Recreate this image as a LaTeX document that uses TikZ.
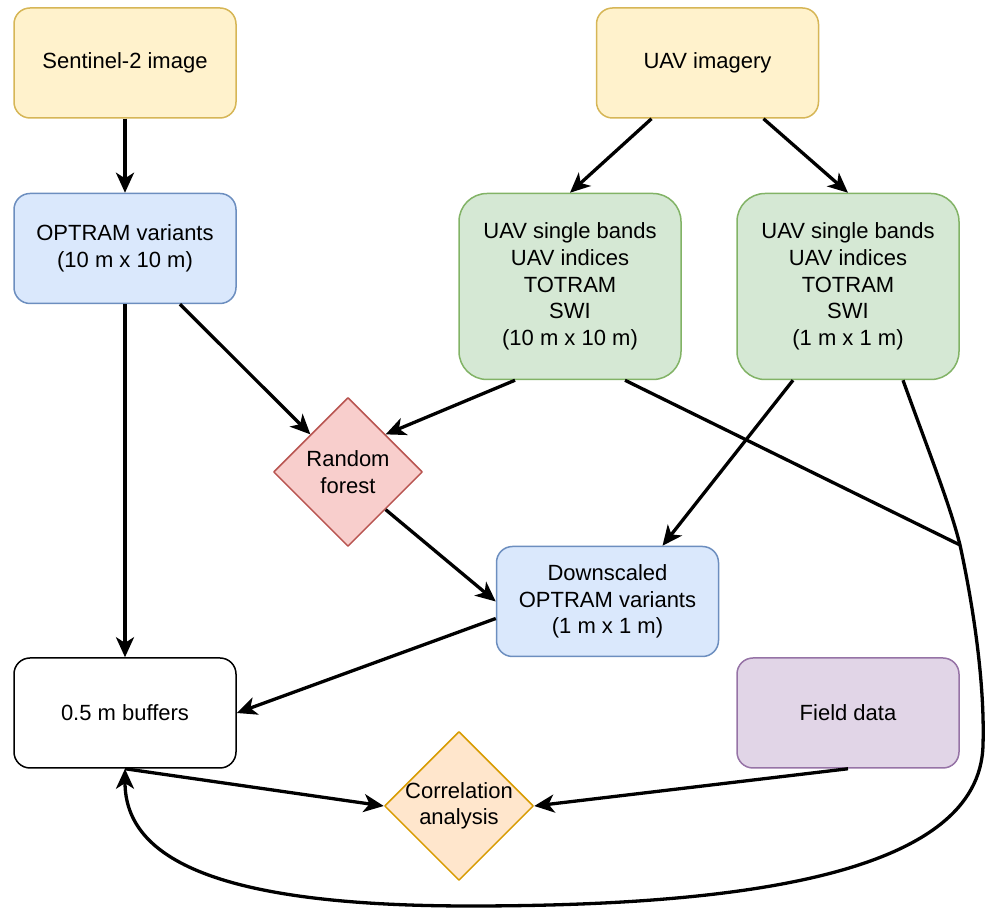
\documentclass[tikz,border=0pt]{standalone}
\usepackage{fontspec}
\setmainfont{Liberation Sans}
\usetikzlibrary{shapes.geometric,arrows.meta}
\definecolor{yelF}{HTML}{FFF2CC}\definecolor{yelD}{HTML}{D6B656}
\definecolor{bluF}{HTML}{DAE8FC}\definecolor{bluD}{HTML}{6C8EBF}
\definecolor{grnF}{HTML}{D5E8D4}\definecolor{grnD}{HTML}{82B366}
\definecolor{redF}{HTML}{F8CECC}\definecolor{redD}{HTML}{B85450}
\definecolor{purF}{HTML}{E1D5E7}\definecolor{purD}{HTML}{9673A6}
\definecolor{orgF}{HTML}{FFE6CC}\definecolor{orgD}{HTML}{D79B00}
\begin{document}
\begin{tikzpicture}
[x=0.5pt,y=-0.5pt,line join=round,
 box/.style={draw,line width=0.75pt,rounded corners=8pt,minimum width=111pt,
   minimum height=55pt,align=center,inner sep=2pt},
 tallbox/.style={box,minimum height=93pt,rounded corners=14pt},
 dia/.style={draw,line width=0.75pt,diamond,minimum width=74.5pt,
   minimum height=74.5pt,inner sep=0pt},
 flow/.style={line width=1.65pt,-{Stealth[length=10pt,width=9pt,inset=2.8pt]}},
 plain/.style={line width=1.65pt}]
\fontsize{11}{13.3}\selectfont
\useasboundingbox (0,0) rectangle (987,908);
% data sources
\node[box,fill=yelF,draw=yelD] (sen) at (125,63) {Sentinel-2 image};
\node[box,fill=yelF,draw=yelD] (uav) at (707.5,63) {UAV imagery};
% derived products
\node[box,fill=bluF,draw=bluD] (opt) at (125,248.5) {OPTRAM variants\\(10 m x 10 m)};
\node[tallbox,fill=grnF,draw=grnD] (g10) at (570,286.5)
  {UAV single bands\\UAV indices\\TOTRAM\\SWI\\(10 m x 10 m)};
\node[tallbox,fill=grnF,draw=grnD] (g1) at (848,286.5)
  {UAV single bands\\UAV indices\\TOTRAM\\SWI\\(1 m x 1 m)};
\node[dia,fill=redF,draw=redD,label={[align=center]center:Random\\forest}] (rf) at (348,472) {};
\node[box,fill=bluF,draw=bluD] (down) at (607.5,601.5) {Downscaled\\OPTRAM variants\\(1 m x 1 m)};
% analysis
\node[box,draw=black] (buf) at (125,713) {0.5 m buffers};
\node[box,fill=purF,draw=purD] (fld) at (848,713) {Field data};
\node[dia,fill=orgF,draw=orgD,label={[align=center]center:Correlation\\analysis}] (corr) at (459,806) {};
\coordinate (jn) at (960,545);

\draw[flow] (sen) -- (opt);
\draw[flow] ([xshift=-28pt]uav.south) -- (g10.north);
\draw[flow] ([xshift=28pt]uav.south) -- (g1.north);
\draw[flow] ([xshift=27.5pt]opt.south) -- (rf.north west);
\draw[flow] ([xshift=-27.5pt]g10.south) -- (rf.north east);
\draw[flow] (opt) -- (buf);
\draw[flow] (rf.south east) -- (down.west);
\draw[flow] ([xshift=-27.5pt]g1.south) -- ([xshift=27.5pt]down.north);
\draw[flow] ([yshift=-8.5pt]down.west) -- (buf.east);
\draw[plain] ([xshift=27.5pt]g10.south) -- (jn);
\draw[flow] ([xshift=27.5pt]g1.south) .. controls (930,455) and (950,505) .. (jn)
  .. controls (972,600) and (985,680) .. (983,745)
  .. controls (980,875) and (740,906) .. (470,906)
  .. controls (220,906) and (125,860) .. (buf.south);
\draw[flow] (buf.south) -- (corr.west);
\draw[flow] (fld.south) -- (corr.east);
\end{tikzpicture}
\end{document}
